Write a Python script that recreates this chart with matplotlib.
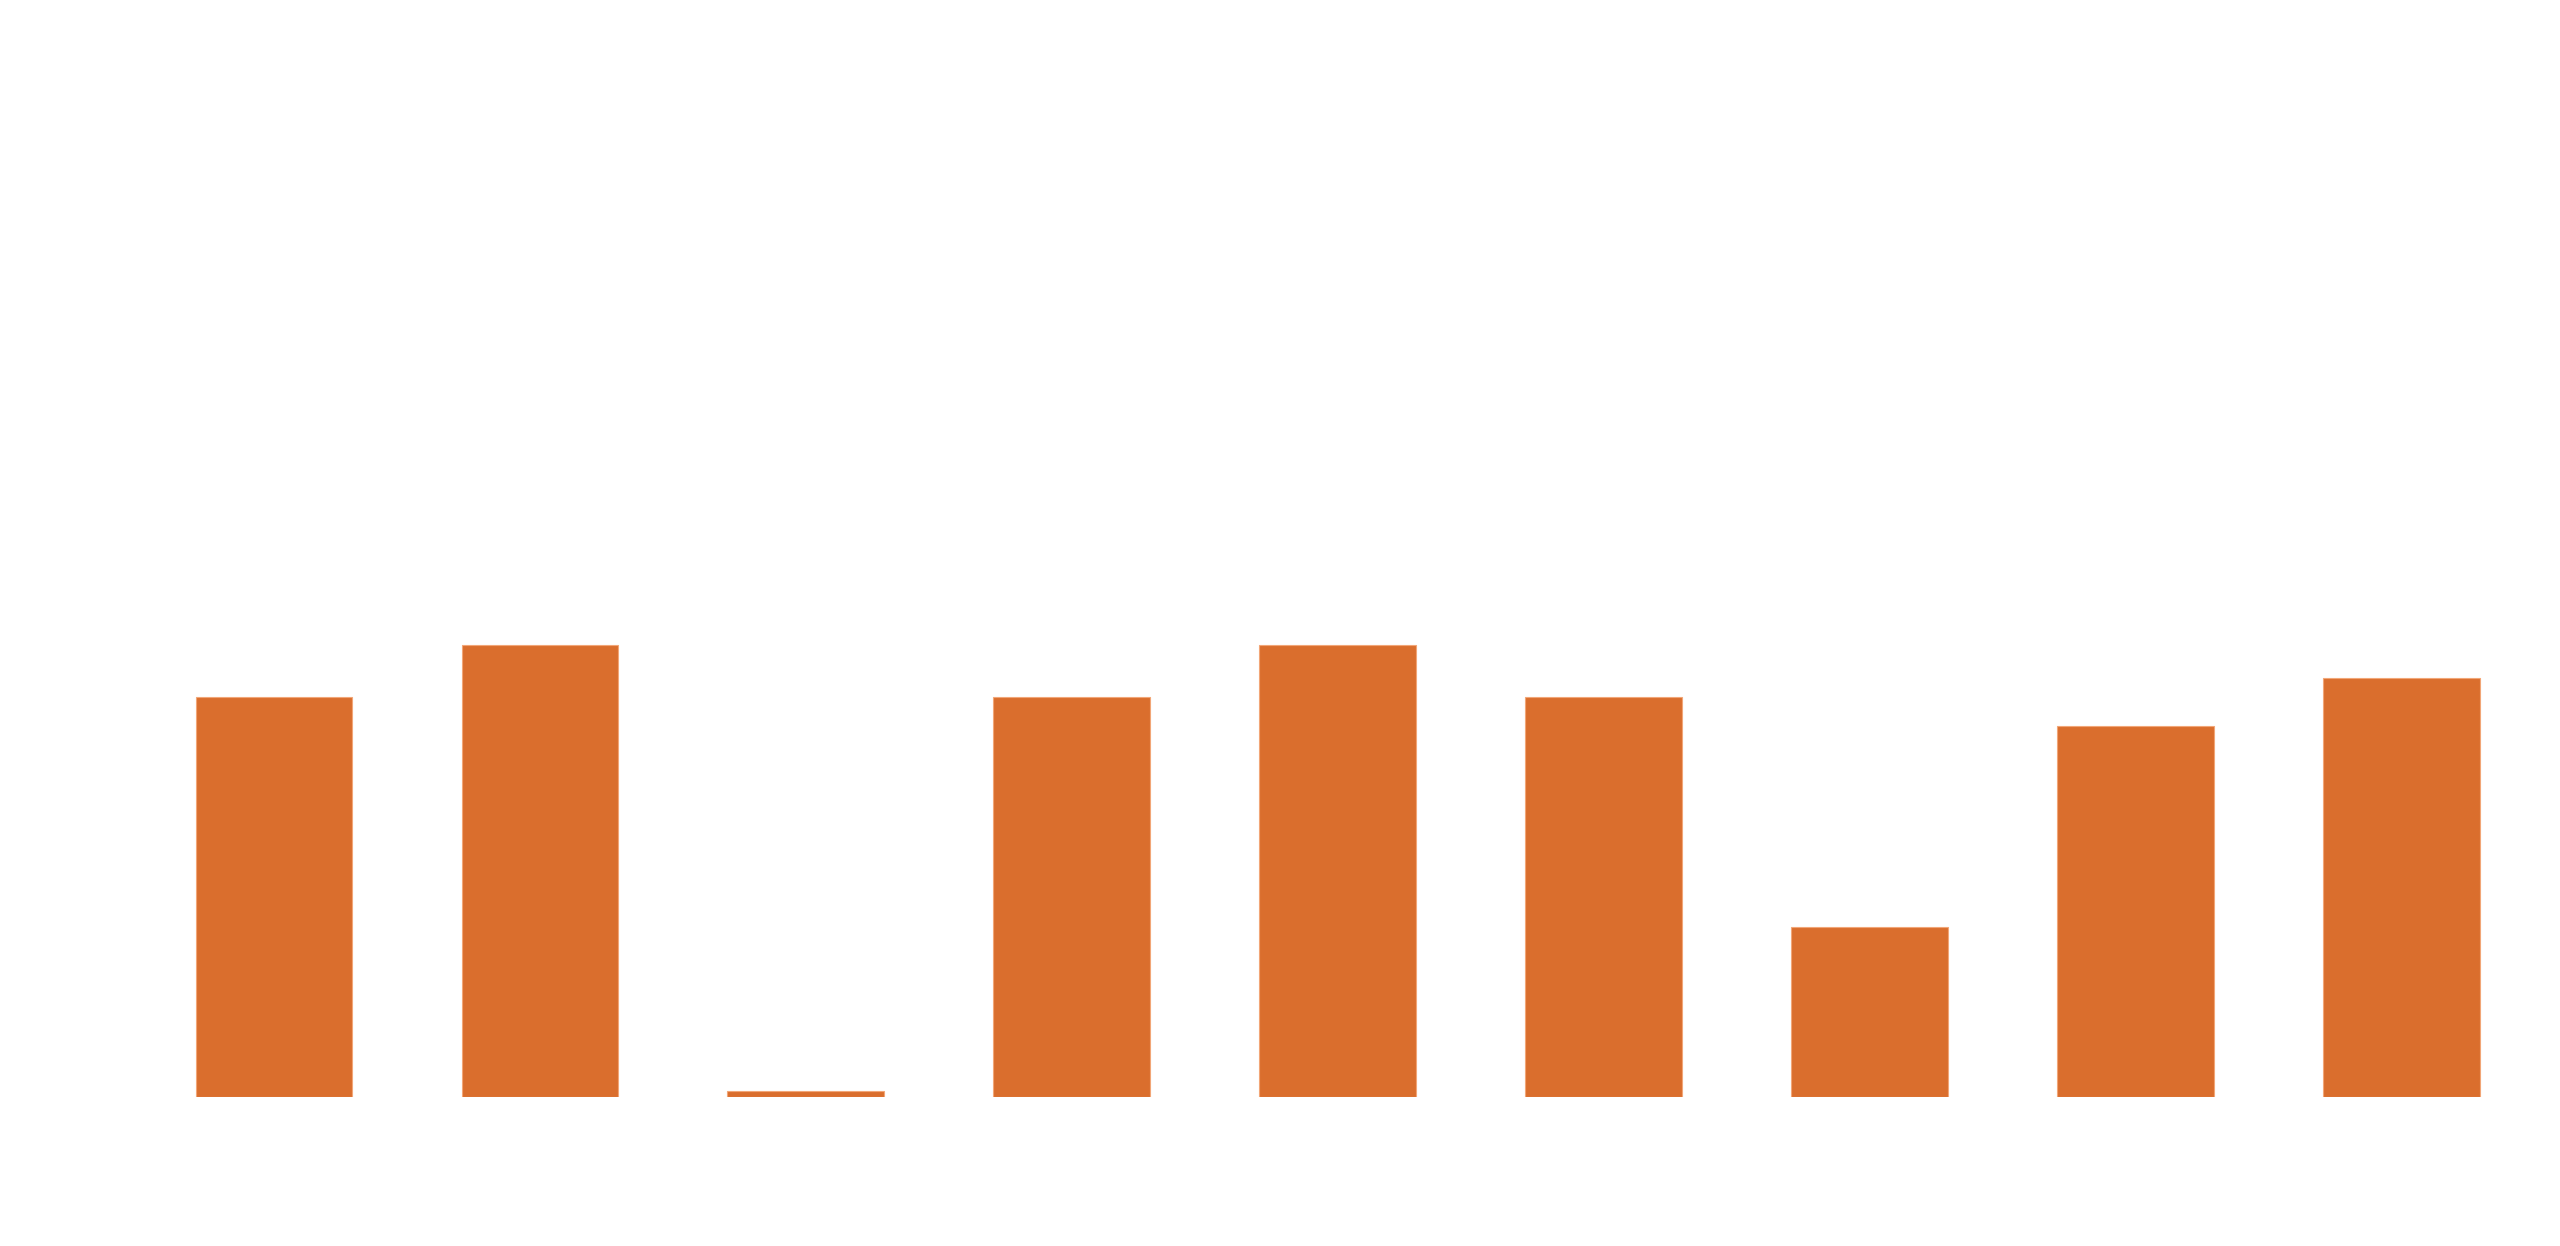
import numpy as np
import matplotlib
matplotlib.use("Agg")
import matplotlib.pyplot as plt

# data (no labels shown in the chart)
categories = ["A", "B", "C", "D", "E", "F", "G", "H", "I"]
values = [77, 87, 1.15, 77, 87, 77, 32.8, 71.4, 80.6]

bar_color = "#DA6E2D"
edge_color = "#F2A677"

fig = plt.figure(figsize=(25.6, 12.46), dpi=100)
ax = fig.add_axes([0.0551, 0.1193, 0.935, 0.8351])

x = np.arange(len(categories))
ax.bar(x, values, width=0.59, color=bar_color, edgecolor=edge_color, linewidth=0.8)

ax.set_xlim(-0.5, len(categories) - 0.5)
ax.set_ylim(0, 200)
ax.axis("off")

fig.savefig("out.png", dpi=100, facecolor="white")
